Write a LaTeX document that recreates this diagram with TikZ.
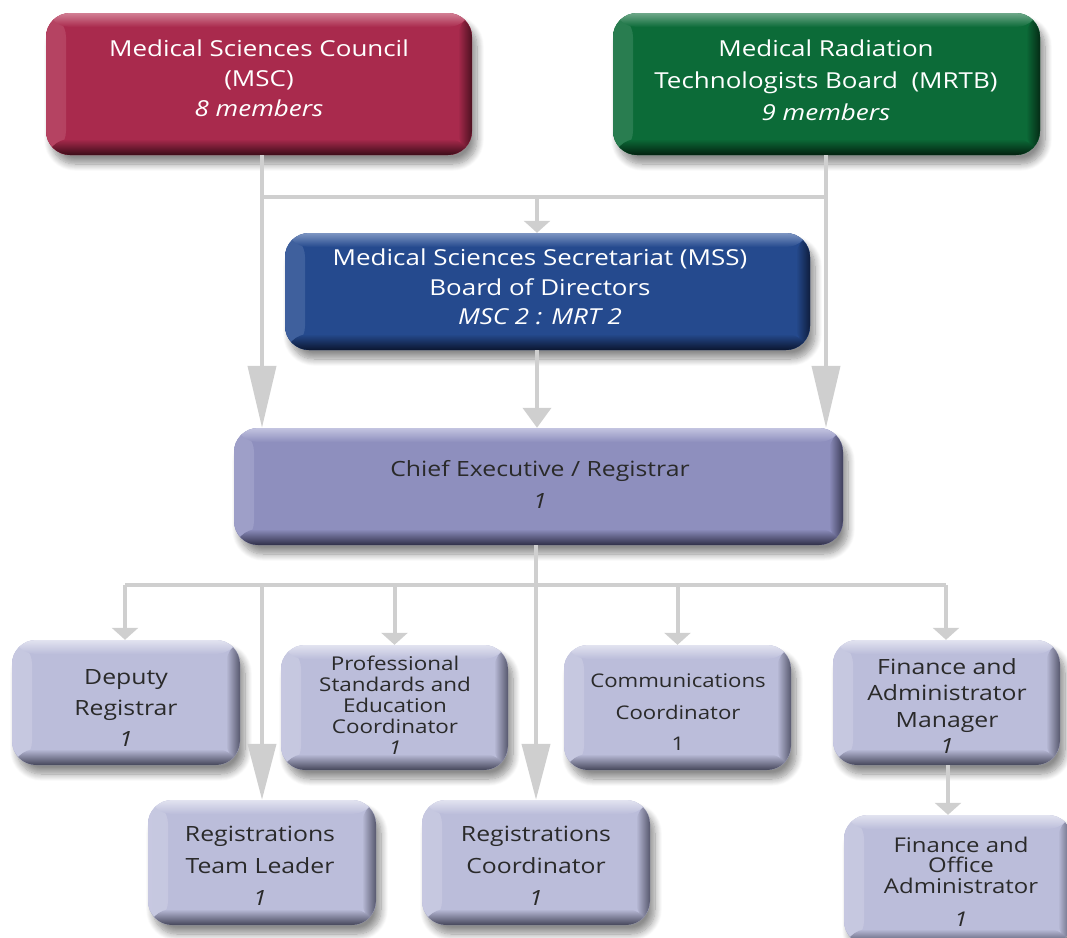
\documentclass[tikz,border=0pt]{standalone}
\usepackage{fontspec}
\setmainfont{Open Sans}[FakeStretch=1.18]
\usetikzlibrary{arrows.meta,shadows.blur,calc}
\definecolor{mscL}{HTML}{D27F94}\definecolor{mscM}{HTML}{A92A4D}\definecolor{mscD}{HTML}{3B0C18}
\definecolor{mrtL}{HTML}{6FA88A}\definecolor{mrtM}{HTML}{0C6B38}\definecolor{mrtD}{HTML}{03200F}
\definecolor{mssL}{HTML}{7D95C2}\definecolor{mssM}{HTML}{254A8E}\definecolor{mssD}{HTML}{0B1630}
\definecolor{ceoL}{HTML}{C3C4E0}\definecolor{ceoM}{HTML}{8E8FBE}\definecolor{ceoD}{HTML}{2F2F48}
\definecolor{stfL}{HTML}{E2E3F0}\definecolor{stfM}{HTML}{BBBDDA}\definecolor{stfD}{HTML}{45465A}
\definecolor{conn}{HTML}{CFCFCF}
\definecolor{txtD}{HTML}{2A2A2A}
\tikzset{
  box/.style={rounded corners=24pt, draw=none, inner sep=0pt,
    blur shadow={shadow xshift=5pt, shadow yshift=-9pt, shadow blur radius=7pt, shadow blur steps=10, shadow opacity=45}},
  bevel/.style n args={3}{fill=#2, path picture={
    \shade[left color=#1!30!#2, right color=#2] (path picture bounding box.north west) rectangle ([xshift=20pt]path picture bounding box.south west);
    \shade[left color=#2, right color=#3!85!#2] ([xshift=-14pt]path picture bounding box.north east) rectangle (path picture bounding box.south east);
    \shade[top color=#1, bottom color=#2] (path picture bounding box.north west) rectangle ([yshift=-14pt]path picture bounding box.north east);
    \shade[top color=#2, bottom color=#3] ([yshift=16pt]path picture bounding box.south west) rectangle (path picture bounding box.south east);
  }},
  wtxt/.style={align=center, text=white, font=\fontsize{22}{30}\selectfont},
  dtxt/.style={align=center, text=txtD, font=\fontsize{21}{31}\selectfont},
  line/.style={draw=conn, line width=4pt},
  bigarrow/.style={line, -{Triangle[width=28pt,length=62pt]}},
  bigarrowb/.style={line, -{Triangle[width=28pt,length=56pt]}},
  smallarrow/.style={line, -{Triangle[width=26pt,length=12pt]}},
  midarrow/.style={line, -{Triangle[width=28pt,length=20pt]}},
}
\begin{document}
\begin{tikzpicture}[x=1pt,y=-1pt]
\useasboundingbox (0,0) rectangle (1067,937);
% boxes
\node[box, bevel={mscL}{mscM}{mscD}, minimum width=426pt, minimum height=142pt] (msc) at (259,84) {};
\node[box, bevel={mrtL}{mrtM}{mrtD}, minimum width=427pt, minimum height=142pt] (mrtb) at (826.5,84) {};
\node[box, bevel={mssL}{mssM}{mssD}, minimum width=525pt, minimum height=117pt] (mss) at (547.5,291.5) {};
\node[box, bevel={ceoL}{ceoM}{ceoD}, minimum width=609pt, minimum height=117pt] (chief) at (538.5,486.5) {};
\node[box, bevel={stfL}{stfM}{stfD}, minimum width=228pt, minimum height=125pt] (dep) at (126,702.5) {};
\node[box, bevel={stfL}{stfM}{stfD}, minimum width=227pt, minimum height=125pt] (prof) at (394.5,707.5) {};
\node[box, bevel={stfL}{stfM}{stfD}, minimum width=227pt, minimum height=125pt] (comm) at (677.5,707.5) {};
\node[box, bevel={stfL}{stfM}{stfD}, minimum width=227pt, minimum height=125pt] (finm) at (946.5,702.5) {};
\node[box, bevel={stfL}{stfM}{stfD}, minimum width=228pt, minimum height=125pt] (regtl) at (262,862.5) {};
\node[box, bevel={stfL}{stfM}{stfD}, minimum width=228pt, minimum height=125pt] (regc) at (536,862.5) {};
\node[box, bevel={stfL}{stfM}{stfD}, minimum width=228pt, minimum height=130pt] (fino) at (958,880) {};
% texts
\node[wtxt] (msc-t) at (259,78) {Medical Sciences Council\\(MSC)\\\textit{8 members}};
\node[wtxt, font=\fontsize{22}{32}\selectfont] (mrtb-t) at (826,80) {Medical Radiation\\Technologists Board\ \ (MRTB)\\\textit{9 members}};
\node[wtxt, font=\fontsize{22}{29.5}\selectfont] (mss-t) at (540,287) {Medical Sciences Secretariat (MSS)\\Board of Directors\\\textit{MSC 2 : MRT 2}};
\node[dtxt, font=\fontsize{21}{32}\selectfont] (chief-t) at (540,484) {Chief Executive / Registrar\\\textit{1}};
\node[dtxt] (dep-t) at (126,708) {Deputy\\Registrar\\\textit{1}};
\node[dtxt, font=\fontsize{19}{21}\selectfont] (prof-t) at (395,705) {Professional\\Standards and\\Education\\Coordinator\\\textit{1}};
\node[dtxt, font=\fontsize{18.8}{31.5}\selectfont] (comm-t) at (678,712.5) {Communications\\Coordinator\\1};
\node[dtxt, font=\fontsize{21}{26.5}\selectfont] (finm-t) at (947,706) {Finance and\\Administrator\\Manager\\\textit{1}};
\node[dtxt, font=\fontsize{21}{32}\selectfont] (regtl-t) at (260,866) {Registrations\\Team Leader\\\textit{1}};
\node[dtxt, font=\fontsize{21}{32}\selectfont] (regc-t) at (536,866) {Registrations\\Coordinator\\\textit{1}};
\node[dtxt, font=\fontsize{20.3}{20.5}\selectfont] (fino-t) at (961,882) {Finance and\\Office\\Administrator\\[13pt]\textit{1}};
% junctions
\coordinate (jl) at (262,197);
\coordinate (jr) at (826,197);
\coordinate (hb) at (537,585);
\coordinate (hl) at (125,585);
\coordinate (hr) at (946,585);
% top connectors
\draw[line] (jl) -- (jr);
\draw[bigarrow] (msc.south -| jl) -- (chief.north -| jl);
\draw[bigarrow] (mrtb.south -| jr) -- (chief.north -| jr);
\draw[smallarrow] (jl -| hb) -- (mss.north -| hb);
\draw[midarrow] (mss.south -| hb) -- (chief.north -| hb);
% lower connectors
\draw[line] (hl) -- (hr);
\draw[bigarrowb] (chief.south -| regc) -- (regc.north);
\draw[bigarrowb] (hl -| regtl) -- (regtl.north);
\draw[smallarrow] (hl) -- (dep.north -| hl);
\draw[smallarrow] (hl -| prof) -- (prof.north);
\draw[smallarrow] (hl -| comm) -- (comm.north);
\draw[smallarrow] (hr) -- (finm.north -| hr);
\draw[smallarrow] ([xshift=1.5pt]finm.south) -- ([xshift=1.5pt]finm.south |- fino.north);
\end{tikzpicture}
\end{document}
